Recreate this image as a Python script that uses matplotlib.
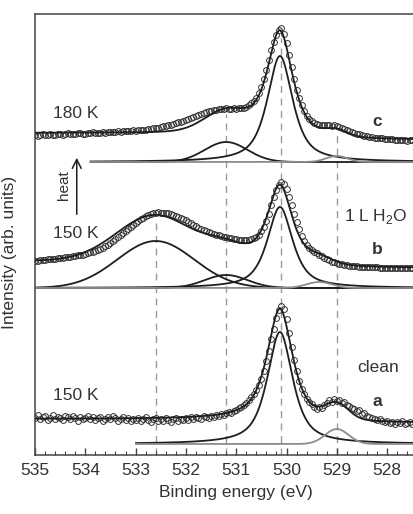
import numpy as np
import matplotlib
matplotlib.use("Agg")
import matplotlib.pyplot as plt
from matplotlib.ticker import FixedLocator, MultipleLocator

plt.rcParams['font.family'] = ['Liberation Sans', 'DejaVu Sans']
plt.rcParams['mathtext.fontset'] = 'custom'
plt.rcParams['mathtext.rm'] = 'Liberation Sans'

# O 1s spectra sampled every 0.05 eV from 535.0 down to 527.5 eV
e_high, e_low = 535.0, 527.5

# a: clean surface, 150 K
counts_a = [37, 40, 36, 38, 39, 35, 37, 40, 36, 38,
            37, 35, 39, 38, 36, 39, 37, 34, 38, 36,
            37, 39, 36, 38, 35, 37, 38, 34, 36, 38,
            36, 39, 37, 34, 36, 38, 35, 37, 34, 36,
            35, 37, 34, 36, 38, 35, 33, 36, 37, 34,
            36, 34, 37, 35, 33, 36, 37, 34, 36, 35,
            37, 35, 38, 36, 38, 37, 36, 39, 38, 37,
            39, 38, 40, 39, 41, 40, 42, 43, 42, 44,
            45, 47, 48, 50, 52, 55, 58, 61, 65, 70,
            76, 84, 94, 104, 116, 126, 137, 145, 149, 146,
            136, 122, 108, 95, 84, 74, 66, 61, 56, 53,
            51, 48, 46, 48, 47, 50, 52, 55, 53, 56,
            54, 55, 52, 53, 50, 49, 47, 46, 44, 45,
            41, 42, 39, 38, 37, 36, 35, 36, 34, 33,
            34, 32, 33, 31, 33, 32, 34, 31, 32, 33,
            31]
# b: 1 L H2O at 150 K
counts_b = [194, 194, 195, 195, 195, 196, 196, 196, 196, 197,
            197, 197, 198, 198, 198, 199, 199, 200, 200, 200,
            201, 202, 203, 203, 204, 205, 206, 207, 209, 210,
            212, 214, 216, 218, 220, 222, 224, 226, 228, 230,
            232, 234, 236, 237, 239, 240, 241, 242, 242, 243,
            242, 242, 242, 242, 241, 240, 239, 238, 237, 236,
            235, 233, 232, 230, 229, 227, 226, 225, 224, 223,
            222, 221, 220, 220, 219, 218, 218, 217, 217, 216,
            216, 215, 215, 215, 215, 215, 216, 217, 218, 220,
            224, 228, 234, 241, 250, 258, 265, 270, 273, 271,
            266, 258, 250, 241, 233, 226, 219, 214, 210, 207,
            205, 203, 202, 200, 199, 197, 196, 195, 193, 193,
            192, 191, 191, 190, 190, 189, 189, 189, 189, 188,
            188, 188, 188, 188, 188, 188, 188, 187, 187, 187,
            187, 187, 187, 187, 187, 187, 187, 187, 187, 187,
            187]
# c: after heating to 180 K
counts_c = [320, 319, 320, 321, 320, 320, 321, 320, 320, 321,
            321, 320, 321, 322, 321, 321, 321, 322, 322, 321,
            321, 322, 322, 323, 322, 322, 322, 323, 322, 323,
            323, 323, 323, 324, 323, 324, 324, 324, 324, 325,
            324, 325, 325, 325, 325, 326, 326, 327, 327, 327,
            328, 329, 329, 330, 330, 331, 332, 333, 333, 334,
            335, 336, 337, 338, 339, 340, 341, 342, 343, 344,
            344, 345, 345, 346, 346, 346, 347, 346, 346, 347,
            346, 347, 347, 347, 348, 350, 352, 354, 357, 362,
            368, 376, 385, 395, 405, 413, 420, 425, 427, 421,
            412, 400, 388, 376, 365, 357, 350, 344, 339, 336,
            334, 332, 331, 330, 330, 330, 330, 330, 329, 330,
            329, 328, 327, 326, 325, 324, 323, 322, 321, 321,
            320, 319, 319, 318, 318, 317, 317, 317, 317, 316,
            316, 316, 316, 315, 315, 315, 315, 315, 314, 315,
            315]

# fitted components: centre (eV), height, FWHM (eV), Lorentzian fraction
peaks_a = [(530.13, 112, 0.6, 0.75), (529.0, 15, 0.55, 0.0)]
peaks_b = [(532.6, 47, 1.8, 0.0), (531.2, 13, 1.0, 0.0),
           (530.13, 81, 0.6, 0.75), (529.35, 6, 0.6, 0.0)]
peaks_c = [(531.2, 20, 1.0, 0.0), (530.13, 106, 0.6, 0.75), (529.0, 6, 0.5, 0.0)]
# component baseline offset, start of drawn components, Shirley background (left, right)
baselines = [11, 167, 293]
fit_start = [533.0, 535.0, 533.9]
backgrounds = [(25, 21), (27, 20), (29, 22)]

# dashed guide lines at the component energies, topped by spectrum b or c
guide_e = [532.6, 531.2, 530.1, 529.0]
guide_src = [1, 2, 2, 2]


def pseudo_voigt(x, c, h, w, eta):
    d = (x - c) / w
    return h * (eta / (1 + 4 * d ** 2) + (1 - eta) * np.exp(-4 * np.log(2) * d ** 2))


def shirley(x, peak_sum, left, right):
    # x runs from high to low binding energy
    area = np.cumsum(peak_sum[::-1])[::-1]
    return right + (left - right) * area / area[0]


def envelope(x, peaks, base, bg):
    total = sum(pseudo_voigt(x, *p) for p in peaks)
    return base + shirley(x, total, *bg) + total


fig = plt.figure(figsize=(4.13, 5.14), dpi=100)
ax = fig.add_axes([35 / 413, 59 / 514, 402.4 / 413, 441 / 514])

fine = np.linspace(e_high, e_low, 800)
dark = '#1e1e1e'
grey = '#8c8c8c'

all_peaks = [peaks_a, peaks_b, peaks_c]
all_counts = [counts_a, counts_b, counts_c]
fits = []

for k in range(3):
    peaks = all_peaks[k]
    base = baselines[k]
    counts = all_counts[k]
    energy = np.linspace(e_high, e_low, len(counts))
    ax.plot(energy, counts, 'o', mfc='none', mec='#333333', ms=4.2, mew=0.7, zorder=3)
    fit = envelope(fine, peaks, base, backgrounds[k])
    fits.append(fit)
    ax.plot(fine, fit, color=dark, lw=1.3, zorder=4)
    xs = fine[fine <= fit_start[k]]
    for p in peaks:
        col = grey if p[1] < 16 and p[0] < 529.5 else dark
        ax.plot(xs, base + pseudo_voigt(xs, *p), color=col, lw=1.3, zorder=2)

for e, src in zip(guide_e, guide_src):
    top = np.interp(e, fine[::-1], fits[src][::-1])
    ax.plot([e, e], [0, top - 6], color='#9a9a9a', lw=1.0, ls=(0, (5, 4)), zorder=1)

ax.set_xlim(535, 527)
ax.set_ylim(0, 441)
ax.xaxis.set_major_locator(FixedLocator([535, 534, 533, 532, 531, 530, 529, 528]))
ax.xaxis.set_minor_locator(MultipleLocator(0.2))
ax.tick_params(axis='x', which='major', direction='in', length=5, width=1, colors='#444',
               labelsize=12.5, labelcolor='#333', pad=6)
ax.tick_params(axis='x', which='minor', direction='in', length=3, width=0.8, colors='#444')
ax.set_yticks([])
for s in ['top', 'left', 'bottom', 'right']:
    ax.spines[s].set_color('#444')
    ax.spines[s].set_linewidth(1.1)

ax.set_xlabel('Binding energy (eV)', fontsize=12.5, color='#333', labelpad=5)
ax.set_ylabel('Intensity (arb. units)', fontsize=12.5, color='#333')
ax.yaxis.set_label_coords(-0.045, 0.46)

txt = dict(fontsize=12.5, color='#333')
ax.text(534.64, 342, '180 K', va='center', **txt)
ax.text(534.64, 222, '150 K', va='center', **txt)
ax.text(534.64, 59, '150 K', va='center', **txt)
ax.text(528.2, 333, 'c', ha='center', va='center', fontweight='bold', **txt)
ax.text(528.2, 205, 'b', ha='center', va='center', fontweight='bold', **txt)
ax.text(528.2, 54, 'a', ha='center', va='center', fontweight='bold', **txt)
ax.text(528.22, 238, '1 L H$_\\mathrm{2}$O', ha='center', va='center', **txt)
ax.text(528.17, 88, 'clean', ha='center', va='center', **txt)

ax.annotate('', xy=(534.17, 300), xytext=(534.17, 238),
            arrowprops=dict(arrowstyle='->', lw=1.1, color=dark, mutation_scale=16))
ax.text(534.42, 270, 'heat', rotation=90, ha='center', va='center', fontsize=11, color='#333')

fig.savefig('out.png', dpi=100)
